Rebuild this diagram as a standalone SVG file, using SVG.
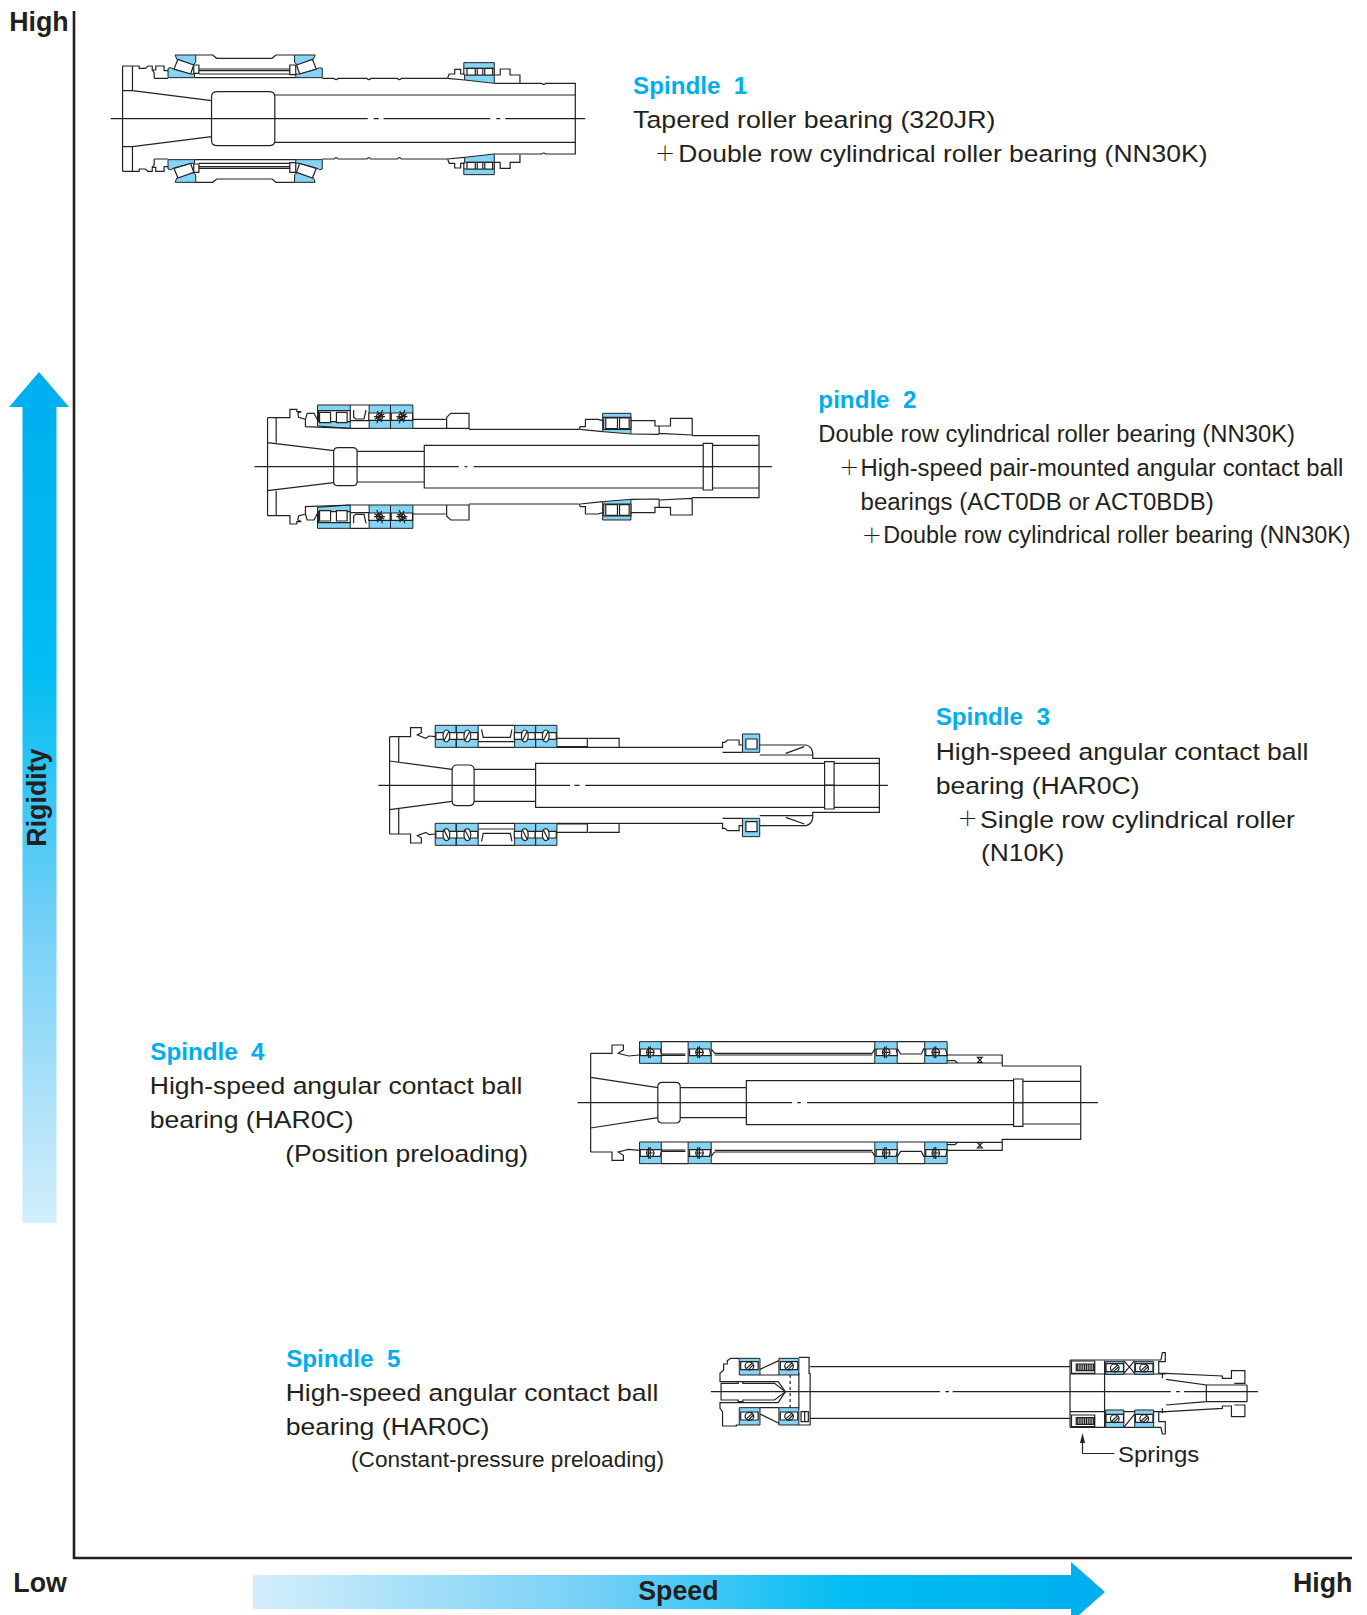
<svg xmlns="http://www.w3.org/2000/svg" xmlns:xlink="http://www.w3.org/1999/xlink" width="1367" height="1615" viewBox="0 0 1367 1615">
<style>
.o{fill:none;stroke:#222;stroke-width:1.2;vector-effect:non-scaling-stroke}
.w{fill:#fff;stroke:#222;stroke-width:1.2;vector-effect:non-scaling-stroke}
.b{fill:#84d4f6;stroke:#222;stroke-width:1;vector-effect:non-scaling-stroke}
.t{font-family:"Liberation Sans",Arial,sans-serif;font-size:24px;fill:#231f20}
.h{font-family:"Liberation Sans",Arial,sans-serif;font-size:23.5px;font-weight:bold;fill:#00aeef;word-spacing:6.5px}
.l{font-family:"Liberation Sans",Arial,sans-serif;font-size:26px;font-weight:bold;fill:#231f20}
.p{font-family:"Noto Sans CJK SC","Liberation Sans",sans-serif;font-size:20px;font-weight:300;fill:#231f20}
</style>
<defs>
<linearGradient id="gv" x1="0" y1="0" x2="0" y2="1"><stop offset="0" stop-color="#00aeef"/><stop offset=".35" stop-color="#00bdf2"/><stop offset=".65" stop-color="#74d0f6"/><stop offset="1" stop-color="#d4eefb"/></linearGradient>
<linearGradient id="gh" x1="1" y1="0" x2="0" y2="0"><stop offset="0" stop-color="#00aeef"/><stop offset=".3" stop-color="#00bdf2"/><stop offset=".6" stop-color="#74d0f6"/><stop offset="1" stop-color="#d4eefb"/></linearGradient>

<g id="s1half">
<path class="b" d="M443,165H495V188L487,195L447,178Z"/>
<path class="w" d="M450,178L490,195L482,222L440,207Z"/>
<path class="b" d="M432,203L440,208L482,222H492V233H425V205Z"/>
<path class="b" d="M797,165H745V188L753,195L793,178Z"/>
<path class="w" d="M790,178L750,195L758,222L800,207Z"/>
<path class="b" d="M808,203L800,208L758,222H748V233H815V205Z"/>
<path class="o" d="M495,165H538L548,175H688L698,165H745"/>
<path class="w" d="M490,195H503V220H490ZM733,195H748V224H733Z"/>
<path class="o" d="M503,207H733M503,212H733M503,222H733M492,233H748"/>
<path class="o" d="M310,198H352V205H368L374,198H385V210H394V198H415V212H425M390,235V218L385,210M390,235H425"/>
<path class="o" d="M815,235H845Q850,243 855,235H928Q933,243 938,235H1005Q1010,243 1015,235H1132M1250,250H1370Q1375,256 1380,250H1455V356"/>
<path class="b" d="M1173,188H1250V205H1173Z"/>
<path class="b" d="M1175,225H1250V250L1175,240Z"/>
<path class="o" d="M1173,205V225M1250,205V225"/>
<path class="w" d="M1181,205H1202V225H1181ZM1207,205H1221V225H1207ZM1226,205H1246V225H1226Z"/>
<path class="o" d="M1132,235L1175,240M1132,235L1136,222H1150V208H1165V222H1175M1250,225H1265V207H1290V225H1315V248"/>
<path class="o" d="M310,198V356M335,198V272H310M335,272L535,302M535,356V290Q535,275 550,275H680Q695,275 695,290V356M695,285H1455"/>
</g>

<g id="ball2"><path class="w" d="M-31,-11H31V11H-31Z"/><circle class="o" r="9"/><path class="o" d="M-16,0H16M-14,8L14,-8M-8,20L9,-20M-6,-17L6,17"/></g>
<g id="s2half">
<path class="b" d="M225,75H320V145L225,138Z"/>
<path class="w" d="M228,92H320V125H228Z"/>
<path class="w" d="M231,97H263V128H231ZM280,97H311V128H280Z"/>
<path class="o" d="M320,75H375M320,122H375M320,145H375M330,90V112L336,117H360L366,90"/>
<path class="b" d="M375,75H437V145H375ZM437,75H502V145H437Z"/>
<use xlink:href="#ball2" x="405" y="110"/><use xlink:href="#ball2" x="470" y="110"/>
<path class="o" d="M80,113H145V88H165V95H178L168,100L170,112L190,118L195,100H215L225,120M190,118V140L320,145M105,113V188M80,113V260M80,188L272,212"/>
<path class="o" d="M502,118H597M502,145H600M600,112L612,100H665V145H600ZM665,148H985L988,140H1003V118H1040L1053,122"/>
<path class="b" d="M1053,100H1135V162L1053,155Z"/>
<path class="w" d="M1056,112H1135V148H1056Z"/>
<path class="w" d="M1062,114H1096V146H1062ZM1102,114H1130V146H1102Z"/>
<path class="o" d="M988,148L1053,155M1135,122H1205V138H1250V115H1313V165M1217,138V160L1313,165M1135,162L1217,163M1313,167H1507V260"/>
<path class="o" d="M272,260V215Q272,203 285,203H327Q340,203 340,215V260M340,214H535M535,260V196H1345M1373,196H1507"/>
<path class="w" d="M1345,190H1372V260H1345Z"/>
</g>

<g id="ball3"><path class="w" d="M-31,-10H31V10H-31Z"/><ellipse class="w" rx="10" ry="18"/><path class="o" d="M-8,16L8,-16"/></g>
<g id="s3half">
<path class="b" d="M193,76H255V142H193ZM255,76H320V142H255ZM428,76H490V142H428ZM490,76H553V142H490Z"/>
<use xlink:href="#ball3" x="226" y="108"/><use xlink:href="#ball3" x="288" y="108"/><use xlink:href="#ball3" x="458" y="108"/><use xlink:href="#ball3" x="520" y="108"/>
<path class="o" d="M320,76H428M320,142H428M320,125H428M330,88L335,112H415L420,88"/>
<path class="o" d="M58,110H120V83H152V98L140,105L165,115L175,108L193,110M85,110V187M58,110V256M58,183L243,208"/>
<path class="o" d="M553,115H643V140H553M646,115H737V142H646M553,142H1043V127H1050L1058,120H1092V135H1102M1043,157H1102"/>
<path class="b" d="M1102,102H1153V157H1102Z"/>
<path class="w" d="M1112,117H1145V147H1112Z"/>
<path class="o" d="M1153,135H1290Q1308,140 1310,160V175H1507V256M1230,160L1285,140M1153,165H1310"/>
<path class="o" d="M243,256V210Q243,195 258,195H293Q308,195 308,210V256M308,208H490M490,256V190H1345M1373,190H1507"/>
<path class="w" d="M1345,185H1373V256H1345Z"/>
</g>

<g id="ball4"><path class="w" d="M-33,-10H-29V-10H-29L-29,10H33V10L29,-10Z"/><circle class="w" r="11"/><path class="o" d="M0,-18V18M-5,-17V17M-11,0H11"/></g>
<g id="s4half">
<path class="b" d="M202,65H265V130H202ZM343,65H410V130H343ZM885,65H950V130H885ZM1030,65H1095V130H1030Z"/>
<use xlink:href="#ball4" x="233" y="97"/><use xlink:href="#ball4" x="376" y="97"/><use xlink:href="#ball4" x="918" y="97"/><use xlink:href="#ball4" x="1062" y="97"/>
<path class="o" d="M265,65H343M410,65H885M950,65H1030M265,130H343M410,130H885M950,130H1030M265,102H335M265,106H335M420,100H878M420,105H878M950,85L960,102H1020L1028,85M410,87L420,100M885,87L878,100"/>
<path class="o" d="M60,100H122V75H155V90L140,100L170,108L202,105M60,100V248M60,172L255,203"/>
<path class="o" d="M1095,105H1255V138H1483V248M1095,122H1118L1125,129M1095,129H1255M1183,112H1197L1183,128H1197Z"/>
<path class="o" d="M255,248V200Q255,187 268,187H307Q320,187 320,200V248M320,203H512M512,248V182H1288M1315,184H1483"/>
<path class="w" d="M1288,177H1315V248H1288Z"/>
</g>
<g id="ball5"><path class="w" d="M-24,-13H24V11H-24Z"/><circle class="o" r="12"/><path class="o" d="M-8,7L8,-9M-3,11L11,-4"/></g>
<g id="spr"><path class="o" d="M0,0H50V20H0Z"/><path class="o" d="M3,0V20M8,0V20M13,0V20M18,0V20M23,0V20M28,0V20M33,0V20M38,0V20M43,0V20M48,0V20"/></g>
</defs>

<g id="axes">
<path d="M74,11V1558H1352" fill="none" stroke="#231f20" stroke-width="2.6"/>
</g>
<g id="rigidity-arrow"><path fill="url(#gv)" d="M39,372L69,407H56.500V1223H22.500V407H9Z"/></g>
<g id="speed-arrow"><path fill="url(#gh)" d="M253,1575H1071V1562L1105,1592L1071,1622V1609H253Z"/></g>

<g id="spindle1" transform="scale(.3954,.3333)">
<use xlink:href="#s1half"/>
<use xlink:href="#s1half" transform="translate(0,712) scale(1,-1)"/>
<path class="o" d="M280,356H930M945,356H958M970,356H1240M1255,356H1265M1278,356H1480"/>
</g>
<g id="spindle2" transform="translate(240,380) scale(.3444,.3333)">
<use xlink:href="#s2half"/>
<use xlink:href="#s2half" transform="translate(0,520) scale(1,-1)"/>
<path class="o" d="M42,260H635M652,260H660M678,260H1545"/>
</g>
<g id="spindle3" transform="translate(370,700) scale(.338,.3333)">
<use xlink:href="#s3half"/>
<use xlink:href="#s3half" transform="translate(0,512) scale(1,-1)"/>
<path class="o" d="M25,256H592M605,256H620M637,256H1532"/>
</g>
<g id="spindle4" transform="translate(570,1020) scale(.3444,.3333)">
<use xlink:href="#s4half"/>
<use xlink:href="#s4half" transform="translate(0,496) scale(1,-1)"/>
<path class="o" d="M22,248H645M660,248H670M688,248H1533"/>
</g>
<g id="spindle5" transform="translate(700,1340) scale(.3635,.3333)">
<path class="b" d="M108,55H165V105H108ZM217,55H272V105H217ZM108,203H165V255H108ZM217,203H272V255H217Z"/>
<use xlink:href="#ball5" x="136" y="78"/><use xlink:href="#ball5" x="245" y="78"/><use xlink:href="#ball5" x="136" y="229"/><use xlink:href="#ball5" x="245" y="229"/>
<path class="o" d="M272,52H300V100H303M272,255H303V212M165,88L217,62M165,222L217,250M165,105H217M165,203H217M272,100V205"/>
<path class="o" d="M108,55H85L75,62V72H65V90L55,100V125H215L235,155L215,188H55V205L62,215V258H100V255H108"/>
<path class="w" d="M58,130H105V125H118V130H205L235,155L205,180H118V185H105V180H58Z"/>
<path class="o" d="M248,105V205" stroke-dasharray="3 3"/>
<path class="o" d="M278,215H298V245H278ZM288,215V245"/>
<path class="o" d="M303,80H1018M303,235H1018M303,100V212M1018,60V262M1018,102H1282M1018,215H1282M1113,62V262M1018,60H1250M1018,262H1250"/>
<path class="o" d="M1022,63H1086V100H1022ZM1022,225H1086V260H1022Z"/>
<use xlink:href="#spr" x="1035" y="72"/><use xlink:href="#spr" x="1035" y="233"/>
<path class="b" d="M1116,65H1166V103H1116ZM1196,65H1248V103H1196ZM1116,210H1166V262H1116ZM1196,210H1248V262H1196Z"/>
<use xlink:href="#ball5" x="1141" y="84"/><use xlink:href="#ball5" x="1222" y="84"/><use xlink:href="#ball5" x="1141" y="236"/><use xlink:href="#ball5" x="1222" y="236"/>
<path class="o" d="M1166,62L1196,100M1196,62L1166,100M1166,262L1196,222"/>
<path class="o" d="M1250,60H1268L1272,38H1280V65H1262V100H1282M1250,262H1268L1272,282H1280V245H1262V215H1282M1272,100V115M1272,205V220"/>
<path class="o" d="M1282,100L1437,108V115H1462V92H1499V130H1470M1282,118L1393,135V185L1282,195M1393,135H1505M1393,185H1505M1282,215L1437,205V198H1462V230H1499V195H1470M1505,135V185"/>
<path class="o" d="M30,155H660M675,155H685M695,155H1295M1310,155H1320M1332,155H1535"/>
</g>
<g id="springs-leader">
<path d="M1082.500,1453.500H1114.500" class="o"/>
<path class="o" d="M1082.500,1440V1453.500"/>
<path d="M1082.500,1433L1080,1443H1085Z" fill="#222"/>
</g>

<g id="labels" transform="scale(1.0294,1.03)">
<text class="l" x="9" y="30">High</text>
<text class="l" x="13" y="1546">Low</text>
<text class="l" x="1256" y="1546">High</text>
<text class="l" x="620" y="1553">Speed</text>
<text class="l" transform="translate(45,822) rotate(-90)">Rigidity</text>

<text class="h" x="615" y="91">Spindle 1</text>
<text class="t" x="615" y="124" textLength="352" lengthAdjust="spacingAndGlyphs">Tapered roller bearing (320JR)</text>
<text class="p" x="636" y="156">＋</text>
<text class="t" x="659" y="157" textLength="514" lengthAdjust="spacingAndGlyphs">Double row cylindrical roller bearing (NN30K)</text>

<text class="h" x="795" y="396">pindle 2</text>
<text class="t" x="795" y="429.500" textLength="463" lengthAdjust="spacingAndGlyphs" style="font-size:22.5px">Double row cylindrical roller bearing (NN30K)</text>
<text class="p" x="815" y="461">＋</text>
<text class="t" x="836" y="462.500" textLength="469" lengthAdjust="spacingAndGlyphs" style="font-size:22.5px">High-speed pair-mounted angular contact ball</text>
<text class="t" x="836" y="495" textLength="343" lengthAdjust="spacingAndGlyphs" style="font-size:22.5px">bearings (ACT0DB or ACT0BDB)</text>
<text class="p" x="837" y="527">＋</text>
<text class="t" x="858" y="527.500" textLength="454" lengthAdjust="spacingAndGlyphs" style="font-size:22.5px">Double row cylindrical roller bearing (NN30K)</text>

<text class="h" x="909" y="704">Spindle 3</text>
<text class="t" x="909" y="737.500" textLength="362" lengthAdjust="spacingAndGlyphs">High-speed angular contact ball</text>
<text class="t" x="909" y="770.500" textLength="198" lengthAdjust="spacingAndGlyphs">bearing (HAR0C)</text>
<text class="p" x="930" y="802">＋</text>
<text class="t" x="952" y="803.500" textLength="306" lengthAdjust="spacingAndGlyphs">Single row cylindrical roller</text>
<text class="t" x="953" y="836" textLength="81" lengthAdjust="spacingAndGlyphs">(N10K)</text>

<text class="h" x="146" y="1029">Spindle 4</text>
<text class="t" x="145.500" y="1062" textLength="362" lengthAdjust="spacingAndGlyphs">High-speed angular contact ball</text>
<text class="t" x="145.500" y="1095" textLength="198" lengthAdjust="spacingAndGlyphs">bearing (HAR0C)</text>
<text class="t" x="277" y="1128" textLength="236" lengthAdjust="spacingAndGlyphs">(Position preloading)</text>

<text class="h" x="278" y="1327">Spindle 5</text>
<text class="t" x="277.500" y="1360" textLength="362" lengthAdjust="spacingAndGlyphs">High-speed angular contact ball</text>
<text class="t" x="277.500" y="1393" textLength="198" lengthAdjust="spacingAndGlyphs">bearing (HAR0C)</text>
<text class="t" x="341" y="1424" textLength="304" lengthAdjust="spacingAndGlyphs" style="font-size:21px">(Constant-pressure preloading)</text>
<text class="t" x="1086" y="1419" textLength="79" lengthAdjust="spacingAndGlyphs" style="font-size:22px">Springs</text>
</g>
</svg>
